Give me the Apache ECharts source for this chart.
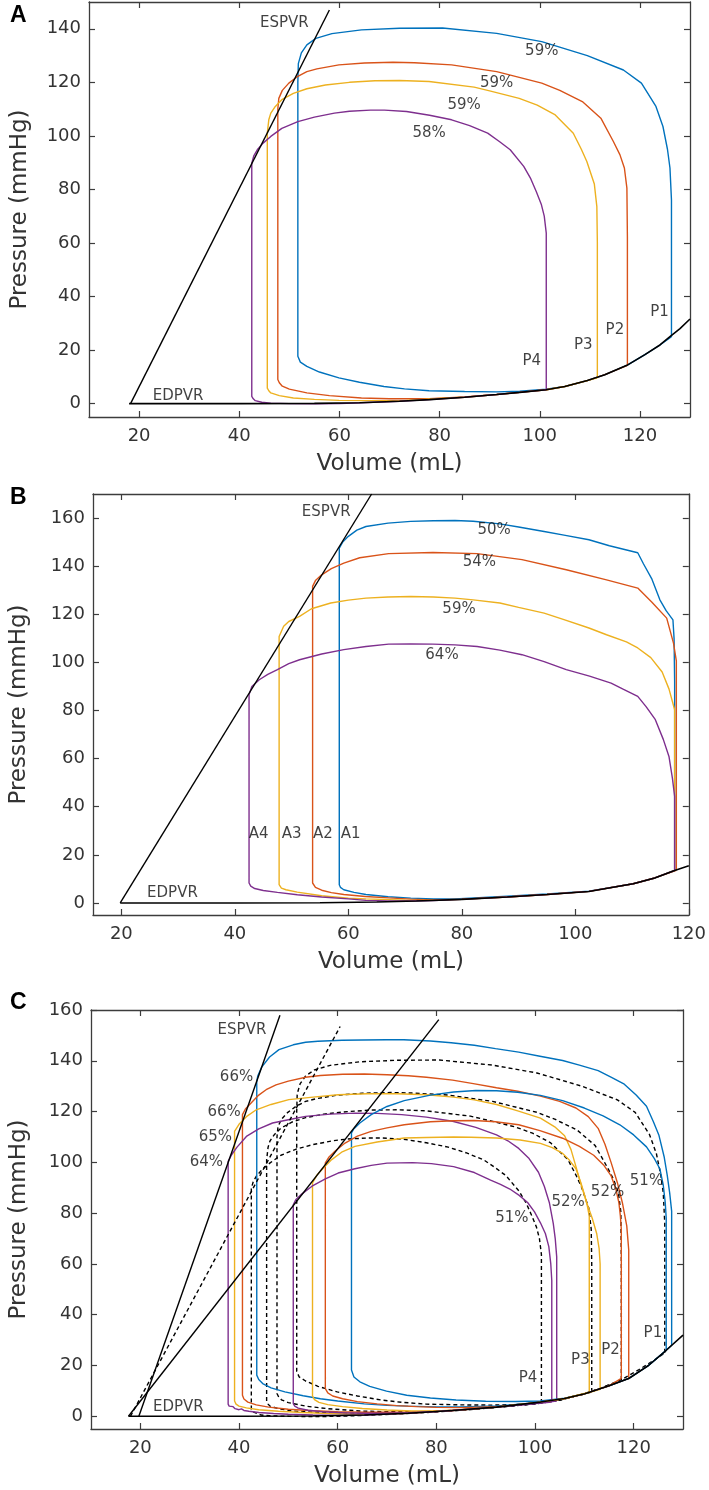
<!DOCTYPE html>
<html><head><meta charset="utf-8">
<script src="https://cdn.jsdelivr.net/npm/echarts@6/dist/echarts.min.js"></script>
<style>html,body{margin:0;padding:0;background:#fff}#c{width:709px;height:1490px}</style>
</head><body><div id="c"></div>
<script>
// ---------- tick labels ----------
const xTicksA = [20, 40, 60, 80, 100, 120];
const yTicksA = [0, 20, 40, 60, 80, 100, 120, 140];
const xTicksB = [20, 40, 60, 80, 100, 120];
const yTicksB = [0, 20, 40, 60, 80, 100, 120, 140, 160];
const xTicksC = [20, 40, 60, 80, 100, 120];
const yTicksC = [0, 20, 40, 60, 80, 100, 120, 140, 160];

// ---------- panel A ----------
const espvrA = [[18.3, 0], [58, 147]];
const edpvrA = [[18, 0], [40, 0], [55, 0.1], [64, 0.3], [72, 0.9], [78, 1.5], [85, 2.4], [91.4, 3.4], [96, 4.2], [101.3, 5.2], [105, 6.4], [109.5, 8.6], [113, 10.8], [117.4, 14.3], [121, 18.3], [124, 21.9], [126, 25], [128, 28], [130, 31.6]];
const loopP1 = [[126.3,25],[126.3,76],[126.0,88],[125.5,95],[124.6,103.5],[123.2,111],[120.3,119.7],[116.7,124.6],[109.5,130],[100.4,135.2],[91.4,138.3],[80.6,140.3],[72,140.2],[64.4,139.6],[58.5,138.2],[55.3,136.4],[53.5,134],[52.4,131],[51.8,127],[51.7,120],[51.7,17.7],[52.2,15.5],[53.5,13.9],[56,11.8],[59.9,9.6],[64,8],[68.9,6.4],[73,5.5],[77.9,4.8],[85,4.5],[91.4,4.4],[96,4.6],[101.3,5.4],[105,6.4],[109.5,8.6],[113,10.8],[117.4,14.3],[121,18.3],[124,21.9],[126.3,25]];
const loopP2 = [[117.5,14.3],[117.5,62],[117.4,80.5],[116.9,88],[116,93],[114.7,97.9],[112.2,106.6],[108.5,112.8],[104,117],[100.4,119.7],[91.4,124],[82.4,126.5],[75,127.3],[70.7,127.5],[65,127.2],[59.9,126.5],[55.5,125],[53.5,124],[51.5,122],[49.9,119.7],[48.6,117],[47.9,114],[47.7,110],[47.7,9],[48.0,7.8],[48.6,6.5],[50,5.4],[53.5,4],[58,3],[64.4,2.1],[70,1.8],[77.9,1.8],[85,2.5],[91.4,3.4],[96,4.2],[101.3,5.2],[105,6.4],[109.5,8.6],[113,10.8],[117.5,14.3]];
const loopP3 = [[111.5,9.6],[111.5,60],[111.4,73.6],[110.9,82],[109.4,90.4],[108.3,95],[106.7,101],[103.1,107.8],[99.5,111.5],[95.9,114],[90,116.8],[86.9,118.2],[77.9,120.3],[72,120.7],[67.1,120.6],[62,120],[57.2,119],[53.5,117.6],[50.8,115.9],[48.5,113.5],[47.2,111],[46.3,108.5],[45.9,106],[45.6,101],[45.6,5.8],[45.9,4.8],[46.3,4],[48,3],[50.8,2.1],[55,1.6],[59.9,1.2],[66,1.1],[73.4,1.2],[80,1.9],[85,2.4],[91.4,3.4],[96,4.2],[101.3,5.2],[105,6.4],[109.5,8.6],[111.5,9.6]];
const loopP4 = [[101.3,5.2],[101.3,63.7],[100.9,70],[100.3,74.5],[99.3,79.2],[98.2,84],[96.8,88.6],[94.1,94.8],[92,97.8],[89.6,101],[86,103.8],[82.4,106],[78,107.7],[73.4,109.1],[69,109.6],[66.2,109.6],[62,109.2],[59,108.5],[55,107],[51.7,105.3],[48.5,102.8],[46.3,99.8],[44.7,97.2],[43.6,94.8],[42.9,92.5],[42.5,89.8],[42.5,2.7],[42.8,1.8],[43.2,1.1],[44.5,0.5],[46.3,0.2],[50,0],[55.3,-0.1],[60,0],[64.4,0.3],[72,0.9],[78,1.5],[85,2.4],[91.4,3.4],[96,4.2],[101.3,5.2]];
const labelsA = [
  ['59%', 100.4, 131.5], ['59%', 91.4, 119.7], ['59%', 84.9, 111.6], ['58%', 77.9, 101.2],
  ['P1', 123.9, 34.2], ['P2', 115.0, 27.4], ['P3', 108.7, 22.0], ['P4', 98.4, 15.8],
  ['ESPVR', 49.0, 142], ['EDPVR', 27.8, 2.8]
];

// ---------- panel B ----------
const espvrB = [[19.8, 0], [64.1, 170]];
const edpvrB = [[19.8,0],[40,0],[55,0.1],[65,0.4],[72,0.8],[80,1.5],[88,2.5],[95,3.5],[102.4,4.8],[110.2,8],[114,10.4],[117.5,13.5],[120,15.5]];
const loopA1 = [[117.5,13.5],[117.5,92],[117.4,110],[117.2,117.7],[116,121.5],[114.9,126],[113.5,134.6],[112,141],[111,145.6],[106,148.5],[102.4,151],[98,152.9],[94.5,154.4],[90,156.3],[86.7,157.6],[82,158.7],[78.8,159],[75,158.9],[71,158.6],[67,157.9],[63.1,156.5],[61.5,155],[60,152.4],[59,150],[58.4,147.5],[58.4,7.6],[58.6,6.5],[59.2,5.5],[61,4.4],[63.1,3.5],[67,2.6],[71,2],[75,1.7],[78.8,1.7],[83,2.2],[88,2.8],[95,3.7],[102.4,4.9],[110.2,8],[114,10.4],[117.5,13.5]];
const loopA2 = [[117.8,13.6],[117.8,100.6],[117.3,108],[116.1,118.4],[113.5,125],[111,130.9],[105.5,134.3],[98.4,138.5],[90.6,142.7],[82.7,145.2],[74.9,145.7],[67.1,145.2],[62,143.5],[59.2,141.3],[57,139],[55.3,136.4],[54.2,134],[53.7,131.6],[53.7,8.3],[54.2,6.5],[55.3,5.3],[57,4.3],[59.2,3.5],[63,2.7],[67.1,2.1],[71,1.6],[74.9,1.3],[80,1.6],[88,2.5],[95,3.5],[102.4,4.8],[110.2,8],[114,10.4],[117.8,13.6]];
const loopA3 = [[117.5,13.5],[117.5,80.3],[116.5,89],[115.3,96],[113.3,102],[111,106],[109,108.5],[105.5,111.5],[102.4,114.3],[98,117.8],[94.5,120.5],[90,122.9],[86.7,124.7],[82,126],[78.8,126.7],[75,127.2],[71,127.4],[67,127.2],[63.1,126.7],[60,125.9],[56.9,124.7],[53.5,122.3],[51.4,119.1],[49.5,117],[48.6,115],[47.8,110.8],[47.8,7.6],[48.2,6.2],[49,5.5],[51,4.5],[55.3,3],[60,2],[63.1,1.7],[70,1.2],[75,1.1],[80,1.5],[88,2.5],[95,3.5],[102.4,4.8],[110.2,8],[114,10.4],[117.5,13.5]];
const loopA4 = [[117.5,13.5],[117.5,44.3],[117.1,52],[116.5,60.9],[115.5,68],[114.1,76.2],[112.5,81.5],[111,85.9],[108.5,88.8],[106.3,91.4],[102.5,94.3],[98.4,97],[94.5,100.3],[90.6,103.2],[86.7,105.1],[82.7,106.6],[78.8,107.3],[74.9,107.6],[71,107.7],[67.1,107.6],[63.1,106.6],[59.2,105.3],[55.3,103.5],[51.4,101.1],[49.5,99.5],[47.5,97],[45.8,95],[44.3,92.8],[43,90],[42.5,86.6],[42.5,8.3],[42.8,7],[43.5,6],[45,5.2],[47.5,4.4],[51,3.4],[55.3,2.5],[60,1.7],[63.1,1.1],[67,0.8],[71,0.8],[75,1.0],[80,1.5],[88,2.5],[95,3.5],[102.4,4.8],[110.2,8],[114,10.4],[117.5,13.5]];
const labelsB = [
  ['50%', 85.7, 154.8], ['54%', 83.1, 141.7], ['59%', 79.5, 122.2], ['64%', 76.5, 103.2],
  ['A4', 44.2, 28.8], ['A3', 50.0, 28.8], ['A2', 55.5, 28.8], ['A1', 60.4, 28.8],
  ['ESPVR', 56.1, 162.5], ['EDPVR', 29.0, 3.9]
];

// ---------- panel C ----------
const espvrHigh = [[19.7, 0], [48.3, 157.9]];
const espvrBase = [[18.0, 0], [60.5, 153.5]];
const espvrLow = [[17.6, 0], [80.5, 156.2]];
const edpvrC = [[17.6,0],[40,0],[55,0.1],[65.4,0.5],[74.3,1.2],[83.3,2.3],[92.2,3.6],[101.1,5.6],[106,7],[110.1,8.9],[115,12],[119,14.9],[123,20],[126.6,26],[130,32]];
const loopH1 = [[127.7,28],[127.7,80.8],[127.3,88],[126.8,95],[126.2,102],[125.1,110.8],[124,116],[122.6,122.1],[120.5,126.5],[118.1,130.8],[115.5,133.5],[112.8,136.1],[109,138.3],[105.6,140.1],[101,141.8],[96.7,143.4],[92,144.8],[87.7,146.1],[83,147.1],[78.8,147.8],[73.4,148.3],[69.9,148.3],[65,148.2],[60.9,148.1],[56,147.7],[53.5,147.3],[51,146.3],[48.1,144.4],[46.2,141.5],[44.6,137.5],[43.8,134],[43.6,131.9],[43.6,16.2],[44,14.5],[44.8,12.9],[46.5,11.2],[49.3,9.6],[53,8.1],[56.5,6.9],[60,6],[65.4,4.9],[70,4.3],[74.3,4],[80,3.7],[85,3.7],[92.2,4.1],[97,4.8],[101.1,5.6],[106,7],[110.1,8.9],[115,12],[119,14.9],[123,20],[126.6,26],[127.7,28]];
const loopH2 = [[119,14.9],[119,65.5],[118.6,75],[117.7,84.2],[116.7,92],[115.4,100.1],[114.2,107],[112.8,113.4],[110.8,118],[108.3,121.4],[105,124],[101.1,126.1],[96.5,128],[92.2,129.4],[87.5,131],[83.3,132.4],[78,133.5],[74.3,134.1],[70,134.5],[65.4,134.8],[61,134.7],[56.5,134.2],[53.5,133.5],[50,132],[47.5,130.5],[45.5,128.6],[44,126.5],[42.5,123.5],[41.3,121],[40.7,118.8],[40.7,8.3],[41,6.8],[41.8,5.6],[43.5,4.5],[46,3.6],[50,2.8],[55,2.2],[60,1.8],[65.4,1.6],[70,1.6],[74.3,1.7],[80,2],[83.3,2.3],[92.2,3.6],[101.1,5.6],[106,7],[110.1,8.9],[115,12],[119,14.9]];
const loopH3 = [[113.2,10.6],[113.2,60],[113,66],[112.5,72],[111.6,78],[110.5,84],[109.2,92.1],[108.2,99],[107.3,105],[106,110.5],[104,114],[101.1,117.4],[96.5,120.3],[92.2,122.8],[87.7,124.6],[83.5,125.7],[78,126.6],[72,127],[66,127],[60.1,126.6],[55,125.7],[50.1,124.7],[46.5,122.8],[43.5,120.7],[41.5,118],[40,115],[39.1,112.2],[39.1,6],[39.4,4.8],[40,4],[41.5,3.3],[44,2.6],[48,2],[53,1.5],[58,1.1],[65,0.8],[70,0.9],[74.3,1.2],[83.3,2.3],[92.2,3.6],[101.1,5.6],[106,7],[110.1,8.9],[113.2,10.6]];
const loopH4 = [[104.4,6],[104.4,62.8],[104.1,70],[103.7,76],[102.9,84.2],[101.9,90.5],[100.7,96.1],[98.8,101.5],[96.7,105.5],[94.5,108.5],[92.2,110.8],[88,113.8],[83.3,116.2],[78,117.8],[73,118.8],[68,119.3],[63.5,119.4],[58.5,119],[53.5,118.1],[50,116.8],[46.8,115.5],[44,113.2],[41.5,110.2],[39.6,106],[38.5,103],[37.8,100.4],[37.8,4.8],[38,4.0],[38.4,3.4],[38.8,3.8],[39.2,3.0],[39.6,3.4],[40,2.6],[40.5,2.9],[41,2.3],[42,2],[44,1.5],[47,1.1],[50,0.8],[55,0.5],[60,0.3],[65.4,0.5],[74.3,1.2],[83.3,2.3],[92.2,3.6],[98,4.6],[104.4,6]];
const loopL1 = [[126.6,26],[126.6,78],[126.4,84.2],[126,91],[125.3,97.5],[124.2,101.5],[122.6,106.1],[120,110.8],[117.2,114.8],[113.8,118.3],[110,121.4],[105.6,124.3],[101.1,126.4],[96.5,127.6],[92.2,128.2],[88,128.3],[83.5,127.7],[78.8,126.5],[73.5,124.3],[70,122],[66.8,118.8],[64.5,115.5],[63.2,113],[62.8,111.6],[62.8,18.2],[63.3,15.5],[64.5,13.6],[66.5,11.8],[69.9,9.9],[74,8.3],[78.8,7.2],[84,6.4],[90,5.9],[96,5.8],[101.1,6],[106,7.1],[110.1,8.9],[115,12],[119,14.9],[123,20],[126.6,26]];
const loopL2 = [[117.5,14.9],[117.5,73.5],[117.3,79],[117,84.2],[116.4,89.5],[115.4,94.8],[113.9,99],[111.9,102.8],[109,106.3],[105.6,109.5],[101,112.5],[96.7,114.8],[92,116],[87.7,116.5],[83.5,116.4],[78.8,116],[73.5,114.8],[70,113.6],[66.8,112.2],[64,110.3],[61.5,107.6],[59.5,104.5],[58.2,102],[57.5,99.8],[57.5,10.9],[58,9.2],[59,8],[61,6.9],[64,5.8],[68,4.9],[72,4.2],[76,3.8],[80,3.5],[85,3.4],[92.2,3.8],[98,4.8],[101.1,5.6],[106,7],[110.1,8.9],[115,12],[117.5,14.9]];
const loopL3 = [[111,9.5],[111,78.8],[110.6,83],[110.1,86.8],[109.3,92],[108.3,97.5],[107,100.8],[105.6,103.5],[103.5,105.8],[101.1,107.5],[97,108.8],[92.2,109.6],[87,109.9],[83.5,110],[78,109.8],[73.5,109.6],[68,108],[63.5,106.3],[60.8,104],[58.8,101.1],[57.2,98],[55.8,95],[54.9,91.9],[54.9,8],[55.3,6.6],[56.2,5.5],[58,4.6],[61,3.8],[65,3.1],[70,2.5],[75,2.1],[80,2.1],[85,2.6],[92.2,3.6],[101.1,5.6],[106,7],[111,9.5]];
const loopL4 = [[103.4,5.6],[103.4,53.5],[103.2,60],[102.8,66.8],[102.1,72],[101.1,76.2],[99.9,80.5],[98.5,84.2],[96.8,87],[94.9,89.5],[93,91.3],[91,93],[87.7,96],[83.5,98.3],[79,99.5],[75.2,99.9],[70,99.7],[66.8,98.8],[63.5,97.5],[60.1,95.8],[57.5,93.5],[54.8,90.6],[52.7,87.5],[51.5,85.3],[51,83.3],[51,5],[51.3,4],[52,3.2],[54,2.4],[57,1.8],[61,1.4],[65,1.2],[70,1.2],[74.3,1.4],[80,1.9],[85,2.6],[92.2,3.6],[98,4.6],[103.4,5.6]];
const labelsC = [
  ['ESPVR', 40.6, 152.1], ['66%', 39.5, 133.4], ['66%', 37.0, 119.8], ['65%', 35.2, 109.9], ['64%', 33.4, 100.1],
  ['51%', 122.6, 92.5], ['52%', 114.7, 88.1], ['52%', 106.7, 84.2], ['51%', 95.3, 78.2],
  ['P1', 123.9, 32.9], ['P2', 115.3, 26.2], ['P3', 109.2, 22.0], ['P4', 98.6, 14.9], ['EDPVR', 27.7, 3.6]
];

// ---------- styling / layout ----------
const BLUE = '#0072BD', RED = '#D95319', YEL = '#EDB120', PUR = '#7E2F8E';
const FONT = 'DejaVu Sans';
const AX = '#3c3c3c';

const panels = [
  {grid: {left: 89, top: 2, width: 601, height: 415}, x: [10, 130], y: [-5, 150], xt: xTicksA, yt: yTicksA, nameGap: 57},
  {grid: {left: 85, top: 494, width: 606, height: 421}, x: [15, 120], y: [-5, 170], xt: xTicksB, yt: yTicksB, nameGap: 62},
  {grid: {left: 82, top: 1010, width: 601, height: 419}, x: [10, 130], y: [-5, 160], xt: xTicksC, yt: yTicksC, nameGap: 60}
];

const grids = [], xAxes = [], yAxes = [], series = [];
panels.forEach((p, i) => {
  grids.push(Object.assign({containLabel: false}, p.grid));
  const common = (ticks) => ({
    axisLine: {show: true, onZero: false, lineStyle: {color: AX, width: 1.3}},
    axisTick: {show: true, inside: true, length: 6, customValues: ticks, lineStyle: {color: AX, width: 1.2}},
    splitLine: {show: false}
  });
  xAxes.push(Object.assign({
    type: 'value', gridIndex: i, position: 'bottom', min: p.x[0], max: p.x[1],
    name: 'Volume (mL)', nameLocation: 'middle', nameGap: 36,
    nameTextStyle: {fontFamily: FONT, fontSize: 23, color: '#333'},
    axisLabel: {customValues: p.xt, fontFamily: FONT, fontSize: 18, color: '#333', margin: 10}
  }, common(p.xt)));
  xAxes.push(Object.assign({
    type: 'value', gridIndex: i, position: 'top', min: p.x[0], max: p.x[1],
    axisLabel: {show: false}
  }, common(p.xt)));
  yAxes.push(Object.assign({
    type: 'value', gridIndex: i, position: 'left', min: p.y[0], max: p.y[1],
    name: 'Pressure (mmHg)', nameLocation: 'middle', nameGap: p.nameGap, nameRotate: 90,
    nameTextStyle: {fontFamily: FONT, fontSize: 23, color: '#333'},
    axisLabel: {customValues: p.yt, fontFamily: FONT, fontSize: 18, color: '#333', margin: 8}
  }, common(p.yt)));
  yAxes.push(Object.assign({
    type: 'value', gridIndex: i, position: 'right', min: p.y[0], max: p.y[1],
    axisLabel: {show: false}
  }, common(p.yt)));
});

function line(data, color, panel, opts) {
  opts = opts || {};
  series.push({
    type: 'line', xAxisIndex: panel * 2, yAxisIndex: panel * 2, data: data,
    showSymbol: false, symbol: 'none', smooth: false, animation: false, silent: true,
    z: opts.z || 2,
    lineStyle: {color: color, width: opts.width || 1.4, type: opts.dash ? [4, 3] : 'solid'}
  });
}
function labels(arr, panel) {
  series.push({
    type: 'scatter', xAxisIndex: panel * 2, yAxisIndex: panel * 2, symbolSize: 0.1, animation: false, silent: true, z: 5,
    data: arr.map(a => ({name: a[0], value: [a[1], a[2]]})),
    label: {show: true, position: 'inside', formatter: (d) => d.name, fontFamily: FONT, fontSize: 15, color: '#111'}
  });
}

// Panel A
[[loopP1, BLUE], [loopP2, RED], [loopP3, YEL], [loopP4, PUR]].forEach(l => line(l[0], l[1], 0));
line(espvrA, '#000', 0, {z: 3});
line(edpvrA, '#000', 0, {z: 3, width: 1.6});
labels(labelsA, 0);

// Panel B
[[loopA1, BLUE], [loopA2, RED], [loopA3, YEL], [loopA4, PUR]].forEach(l => line(l[0], l[1], 1));
line(espvrB, '#000', 1, {z: 3});
line(edpvrB, '#000', 1, {z: 3, width: 1.6});
labels(labelsB, 1);

// Panel C
[loopP1, loopP2, loopP3, loopP4].forEach(l => line(l, '#000', 2, {dash: true, width: 1.4}));
[[loopH1, BLUE], [loopH2, RED], [loopH3, YEL], [loopH4, PUR], [loopL1, BLUE], [loopL2, RED], [loopL3, YEL], [loopL4, PUR]].forEach(l => line(l[0], l[1], 2));
line(espvrHigh, '#000', 2, {z: 3});
line(espvrBase, '#000', 2, {z: 3, dash: true});
line(espvrLow, '#000', 2, {z: 3});
line(edpvrC, '#000', 2, {z: 3, width: 1.6});
labels(labelsC, 2);

const chart = echarts.init(document.getElementById('c'), null, {renderer: 'canvas'});
chart.setOption({
  animation: false,
  backgroundColor: '#fff',
  grid: grids, xAxis: xAxes, yAxis: yAxes, series: series,
  graphic: [
    {type: 'text', left: 10, top: 4, style: {text: 'A', fontFamily: 'Liberation Sans', fontWeight: 'bold', fontSize: 23, fill: '#000'}},
    {type: 'text', left: 10, top: 486, style: {text: 'B', fontFamily: 'Liberation Sans', fontWeight: 'bold', fontSize: 23, fill: '#000'}},
    {type: 'text', left: 10, top: 991, style: {text: 'C', fontFamily: 'Liberation Sans', fontWeight: 'bold', fontSize: 23, fill: '#000'}}
  ]
});
</script></body></html>
